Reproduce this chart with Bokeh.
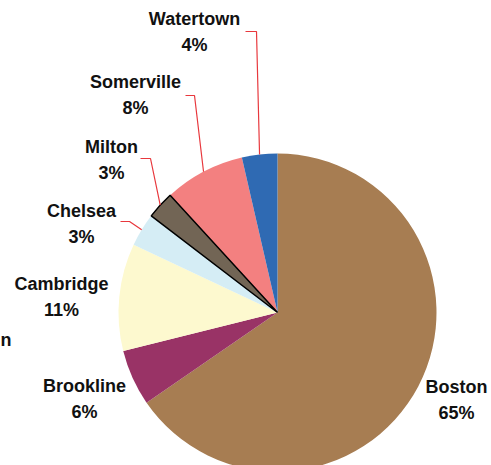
import math
from bokeh.plotting import figure
from bokeh.models import Range1d, ColumnDataSource
from bokeh.core.properties import value
from bokeh.embed import file_html
from bokeh.resources import INLINE

# ---- data ----
towns = ["Boston", "Brookline", "Cambridge", "Chelsea", "Milton", "Somerville", "Watertown"]
shares = [65.4, 5.7, 10.9, 3.4, 2.8, 8.2, 3.6]
colors = ["#A77D52", "#993366", "#FDF9CF", "#D5EDF5", "#726555", "#F38080", "#2F6AB3"]

# ---- layout (reference pixel coordinates) ----
W, H = 491, 465
CX, CY, R = 277, 312, 159
# label centre (x, name-line y); percentage line sits 26px lower
label_pos = {
    "Boston": (456, 386), "Brookline": (84, 385), "Cambridge": (61, 283),
    "Chelsea": (81, 210), "Milton": (111, 146), "Somerville": (135, 81),
    "Watertown": (194, 18),
}
# leader lines: start of horizontal stub and elbow
leaders = {
    "Chelsea": ((120, 221), (129, 221)),
    "Milton": ((140, 158), (150, 158)),
    "Somerville": ((185, 95), (194, 95)),
    "Watertown": ((245, 31), (256, 31)),
}

def dx(x):
    return x

def dy(y):
    return H - y

p = figure(width=W, height=H, output_backend="svg", toolbar_location=None,
           x_range=Range1d(0, W), y_range=Range1d(0, H), min_border=0)
p.axis.visible = False
p.grid.visible = False
p.outline_line_color = None
p.background_fill_color = "white"

total = sum(shares)
starts, ends, mids = [], [], []
acc = 0.0
for s in shares:
    a0 = acc / total * 2 * math.pi
    acc += s
    a1 = acc / total * 2 * math.pi
    # clockwise from 12 o'clock -> math angles
    starts.append(math.pi / 2 - a1)
    ends.append(math.pi / 2 - a0)
    mids.append((a0 + a1) / 2)

src = ColumnDataSource(dict(start=starts, end=ends, color=colors,
                            x=[dx(CX)] * len(towns), y=[dy(CY)] * len(towns)))
p.wedge(x="x", y="y", radius=R, start_angle="start", end_angle="end",
        fill_color="color", line_color=None, source=src)

# outlined slice (Milton)
i = towns.index("Milton")
p.wedge(x=dx(CX), y=dy(CY), radius=R, start_angle=starts[i], end_angle=ends[i],
        fill_color=colors[i], line_color="black", line_width=1.5)

# leader lines
for name, (p0, p1) in leaders.items():
    k = towns.index(name)
    ex = CX + R * math.sin(mids[k])
    ey = CY - R * math.cos(mids[k])
    p.line([dx(p0[0]), dx(p1[0]), dx(ex)], [dy(p0[1]), dy(p1[1]), dy(ey)],
           line_color="#E8383D", line_width=1.2)

# labels
nx, ny, px, py, nt, pt = [], [], [], [], [], []
for name, s in zip(towns, shares):
    lx, ly = label_pos[name]
    nx.append(dx(lx)); ny.append(dy(ly)); nt.append(name)
    px.append(dx(lx)); py.append(dy(ly + 26)); pt.append(f"{round(s)}%")

font = value("Liberation Sans")
p.text(x=nx, y=ny, text=nt, text_align="center", text_baseline="middle",
       text_font=font, text_font_style="bold", text_font_size="18px", text_color="#111111")
p.text(x=px, y=py, text=pt, text_align="center", text_baseline="middle",
       text_font=font, text_font_style="bold", text_font_size="18px", text_color="#111111")
# fragment of a cut-off label at the left edge
p.text(x=[dx(0)], y=[dy(339)], text=["n"], text_align="left", text_baseline="middle",
       text_font=font, text_font_style="bold", text_font_size="18px", text_color="#111111")

open("out.html", "w").write(file_html(p, INLINE))
